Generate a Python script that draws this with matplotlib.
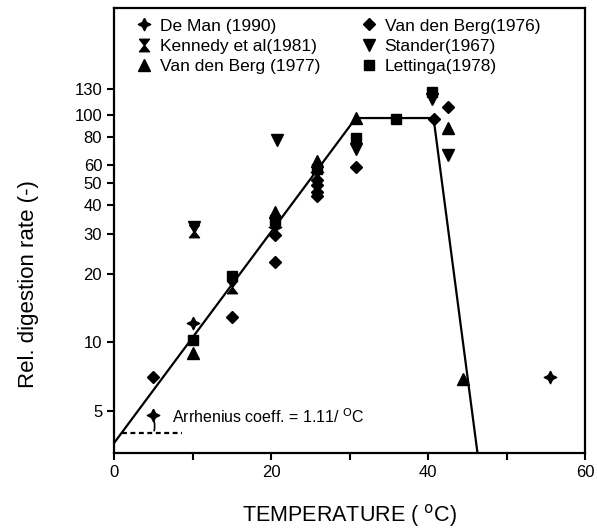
import matplotlib
matplotlib.use("Agg")
import matplotlib.pyplot as plt
from matplotlib.path import Path
from matplotlib.ticker import FixedLocator, NullLocator, NullFormatter

plt.rcParams["font.family"] = ["Liberation Sans", "DejaVu Sans"]

# digested data
de_man_t = [5, 10, 20.5, 25.8, 55.5]
de_man_v = [4.8, 12.1, 32, 56, 7.0]

kennedy_t = [10.2, 15]
kennedy_v = [31, 17.5]

vdb77_t = [10, 20.5, 25.8, 30.8, 42.6, 44.5]
vdb77_v = [9.0, 37.5, 63, 97, 88, 6.9]

vdb76_t = [5, 15, 20.5, 20.5, 25.8, 25.8, 25.8, 25.8, 30.8, 40.7, 42.6]
vdb76_v = [7.0, 12.9, 29.5, 22.5, 52, 49, 46, 44, 59, 96, 108]

stander_t = [10.2, 20.8, 30.8, 40.5, 42.6]
stander_v = [32, 78, 71, 118, 67]

lettinga_t = [10, 15, 20.5, 25.8, 30.8, 35.9, 40.5]
lettinga_v = [10.2, 19.5, 34.5, 58, 79, 96, 126]

# fitted model line (rising Arrhenius part, plateau, drop)
model_t = [0, 30.8, 40.7, 46.3]
model_v = [3.6, 97, 97, 3.25]

# horizontal reference for the Arrhenius angle
ref_t = [1.0, 8.6]
ref_v = [3.97, 3.97]

y_ticks = [5, 10, 20, 30, 40, 50, 60, 80, 100, 130]

# custom marker shapes
star4 = Path([(0, 1), (0.33, 0.33), (1, 0), (0.33, -0.33), (0, -1),
              (-0.33, -0.33), (-1, 0), (-0.33, 0.33), (0, 1)])
hourglass = Path([(-0.8, 1), (0.8, 1), (0, 0), (0.8, -1), (-0.8, -1), (0, 0), (-0.8, 1)])

fig = plt.figure(figsize=(5.97, 5.30), dpi=100)
ax = fig.add_axes([0.191, 0.145, 0.789, 0.840])

ax.plot(model_t, model_v, color="black", lw=1.6, zorder=2)
ax.plot(ref_t, ref_v, color="black", lw=1.6, ls=(0, (2.2, 1.6)), zorder=2)
ax.annotate("", xy=(5.0, 4.6), xytext=(5.0, 3.97),
            arrowprops=dict(arrowstyle="-", color="black", lw=1.2,
                            connectionstyle="arc3,rad=0.2"))

kw = dict(ls="none", color="black", zorder=3)
ax.plot(de_man_t, de_man_v, marker=star4, ms=9, label="De Man (1990)", **kw)
ax.plot(kennedy_t, kennedy_v, marker=hourglass, ms=9, label="Kennedy et al(1981)", **kw)
ax.plot(vdb77_t, vdb77_v, marker="^", ms=8, label="Van den Berg (1977)", **kw)
ax.plot(vdb76_t, vdb76_v, marker="D", ms=6.5, label="Van den Berg(1976)", **kw)
ax.plot(stander_t, stander_v, marker="v", ms=8, label="Stander(1967)", **kw)
ax.plot(lettinga_t, lettinga_v, marker="s", ms=7.5, label="Lettinga(1978)", **kw)

ax.text(7.4, 4.7, "Arrhenius coeff. = 1.11/ $^{\\rm O}$C", fontsize=11.5, va="center")

ax.set_yscale("log")
ax.set_xlim(0, 60)
ax.set_ylim(3.25, 296)
ax.yaxis.set_major_locator(FixedLocator(y_ticks))
ax.set_yticklabels([str(v) for v in y_ticks])
ax.yaxis.set_minor_locator(NullLocator())
ax.yaxis.set_minor_formatter(NullFormatter())
ax.set_xticks([0, 20, 40, 60])
ax.set_xticks([10, 30, 50], minor=True)

for sp in ax.spines.values():
    sp.set_linewidth(1.6)
ax.tick_params(which="both", direction="out", length=5, width=1.5, labelsize=12)

ax.set_xlabel("TEMPERATURE ( $^{\\rm o}$C)", fontsize=15.5, labelpad=16)
ax.set_ylabel("Rel. digestion rate (-)", fontsize=16)
ax.yaxis.set_label_coords(-0.16, 0.38)

ax.legend(ncol=2, loc="upper left", bbox_to_anchor=(0.02, 1.0), frameon=False,
          fontsize=12.5, handletextpad=0.3, columnspacing=2.2, labelspacing=0.3,
          handlelength=1.2, borderaxespad=0.2)

fig.savefig("out.png", dpi=100)
